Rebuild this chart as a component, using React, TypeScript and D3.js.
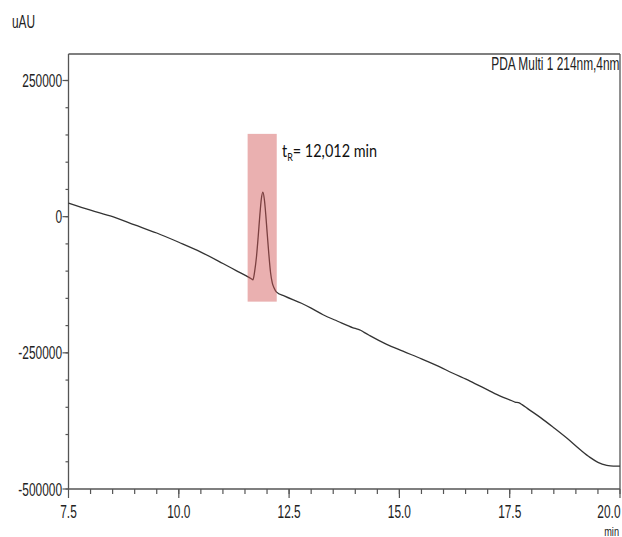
import React from "react";
import * as d3 from "d3";

const times = [
  7.5, 8.0, 8.5, 9.0, 9.5, 10.0, 10.5, 11.0, 11.3, 11.6, 11.65, 11.68,
  11.72, 11.76, 11.8, 11.84, 11.87, 11.905, 11.94, 11.97, 12.0, 12.04, 12.08, 12.12, 12.16,
  12.21, 12.4, 12.78, 13.0, 13.27, 13.6, 13.95, 14.05, 14.12, 14.2, 14.33, 14.7, 15.08,
  15.5, 15.84, 16.2, 16.6, 17.0, 17.3, 17.55, 17.62, 17.7, 17.78, 17.9, 18.2, 18.49,
  18.8, 19.1, 19.32, 19.5, 19.7, 19.85, 20.0,
];
const signal = [
  25000, 12000, 0, -15000, -30000, -47000, -65000, -86000, -99000, -112000, -114500, -116000,
  -100000, -74000, -36000, 6000, 32000, 45000, 31000, 5000, -27000, -68000, -103000, -122000, -131000,
  -138000, -146000, -159000, -168000, -180000, -192000, -204000, -206500, -208500, -212500, -218500, -234000, -247000,
  -261000, -273000, -287000, -302000, -318000, -330000, -338000, -340500, -341500, -345000, -352000, -369000, -387000,
  -407000, -428000, -442000, -451000, -456500, -458000, -458000,
];

const xMajorTicks = [7.5, 10.0, 12.5, 15.0, 17.5, 20.0];
const xMinorTicks = d3.range(16, 41).map((i) => i * 0.5).filter((v) => v <= 20);
const yMajorTicks = [250000, 0, -250000, -500000];
const yMinorTicks = d3.range(-10, 6).map((i) => i * 50000);

const yUnit = "uAU";
const xUnit = "min";
const legendText = "PDA Multi 1 214nm,4nm";
const peakLabelMain = "t";
const peakLabelSub = "R";
const peakLabelRest = "= 12,012 min";
const highlightX = [11.56, 12.22];
const highlightY = [-156000, 152000];

const W = 622;
const H = 537;
const left = 68.5;
const right = 620;
const top = 54;
const bottom = 489;

const FONT = "'Liberation Sans', Arial, sans-serif";
const FS = 17.5;
const SX = 0.68;

export default function App() {
  const x = d3.scaleLinear().domain([7.5, 20]).range([left, right]);
  const y = d3.scaleLinear().domain([-500000, 250000]).range([bottom, 80.5]);
  const pts = times.map((t, i) => [t, signal[i]] as [number, number]);
  const line = d3
    .line<[number, number]>()
    .x((d) => x(d[0]))
    .y((d) => y(d[1]))
    .curve(d3.curveMonotoneX);
  const axisColor = "#555";
  const fmtX = d3.format(".1f");
  const lastX = xMajorTicks[xMajorTicks.length - 1];

  return (
    <svg
      width={W}
      height={H}
      style={{ position: "absolute", left: 0, top: 0, background: "#fff" }}
    >
      <rect x={0} y={0} width={W} height={H} fill="#fff" />
      {/* frame */}
      <line x1={left} x2={right} y1={top} y2={top} stroke={axisColor} strokeWidth={1.3} />
      <line x1={right} x2={right} y1={top} y2={bottom} stroke={axisColor} strokeWidth={1.3} />
      <line x1={left} x2={left} y1={top} y2={bottom} stroke={axisColor} strokeWidth={1.3} />
      <line x1={left} x2={right} y1={bottom} y2={bottom} stroke={axisColor} strokeWidth={1.3} />

      {/* y ticks */}
      {yMinorTicks.map((v) => (
        <line key={"ym" + v} x1={left - 3} x2={left} y1={y(v)} y2={y(v)} stroke={axisColor} strokeWidth={1.2} />
      ))}
      {yMajorTicks.map((v) => (
        <g key={"yM" + v}>
          <line x1={left - 6} x2={left} y1={y(v)} y2={y(v)} stroke={axisColor} strokeWidth={1.2} />
          <text
            transform={`translate(${left - 6.5},${y(v) + 6.5}) scale(${SX},1)`}
            textAnchor="end"
            fontFamily={FONT}
            fontSize={FS}
            fill="#222"
          >
            {String(v)}
          </text>
        </g>
      ))}

      {/* x ticks */}
      {xMinorTicks.map((v) => (
        <line key={"xm" + v} x1={x(v)} x2={x(v)} y1={bottom} y2={bottom + 5} stroke={axisColor} strokeWidth={1.2} />
      ))}
      {xMajorTicks.map((v) => (
        <g key={"xM" + v}>
          <line x1={x(v)} x2={x(v)} y1={bottom} y2={bottom + 9} stroke={axisColor} strokeWidth={1.2} />
          <text
            transform={`translate(${v === lastX ? right + 0.5 : x(v)},${518}) scale(${SX},1)`}
            textAnchor={v === lastX ? "end" : "middle"}
            fontFamily={FONT}
            fontSize={FS}
            fill="#222"
          >
            {fmtX(v)}
          </text>
        </g>
      ))}

      {/* units */}
      <text transform={`translate(12,28) scale(${SX},1)`} fontFamily={FONT} fontSize={FS} fill="#222">
        {yUnit}
      </text>
      <text
        transform={`translate(${right - 1},536) scale(${SX},1)`}
        textAnchor="end"
        fontFamily={FONT}
        fontSize={13.5}
        fill="#222"
      >
        {xUnit}
      </text>
      <text
        transform={`translate(${right - 0.5},70) scale(${SX},1)`}
        textAnchor="end"
        fontFamily={FONT}
        fontSize={FS}
        fill="#222"
      >
        {legendText}
      </text>

      {/* signal */}
      <path d={line(pts) || ""} fill="none" stroke="#333" strokeWidth={1.3} />

      {/* highlight */}
      <rect
        x={x(highlightX[0])}
        y={y(highlightY[1])}
        width={x(highlightX[1]) - x(highlightX[0])}
        height={y(highlightY[0]) - y(highlightY[1])}
        fill="rgb(208,80,80)"
        fillOpacity={0.45}
      />

      {/* peak label */}
      <text
        transform="translate(282,157) scale(0.85,1)"
        fontFamily="Lato, 'Open Sans', sans-serif"
        fontSize={17}
        fill="#111"
      >
        {peakLabelMain}
        <tspan fontSize={10.5} dy={4}>{peakLabelSub}</tspan>
        <tspan dy={-4}>{peakLabelRest}</tspan>
      </text>
    </svg>
  );
}
